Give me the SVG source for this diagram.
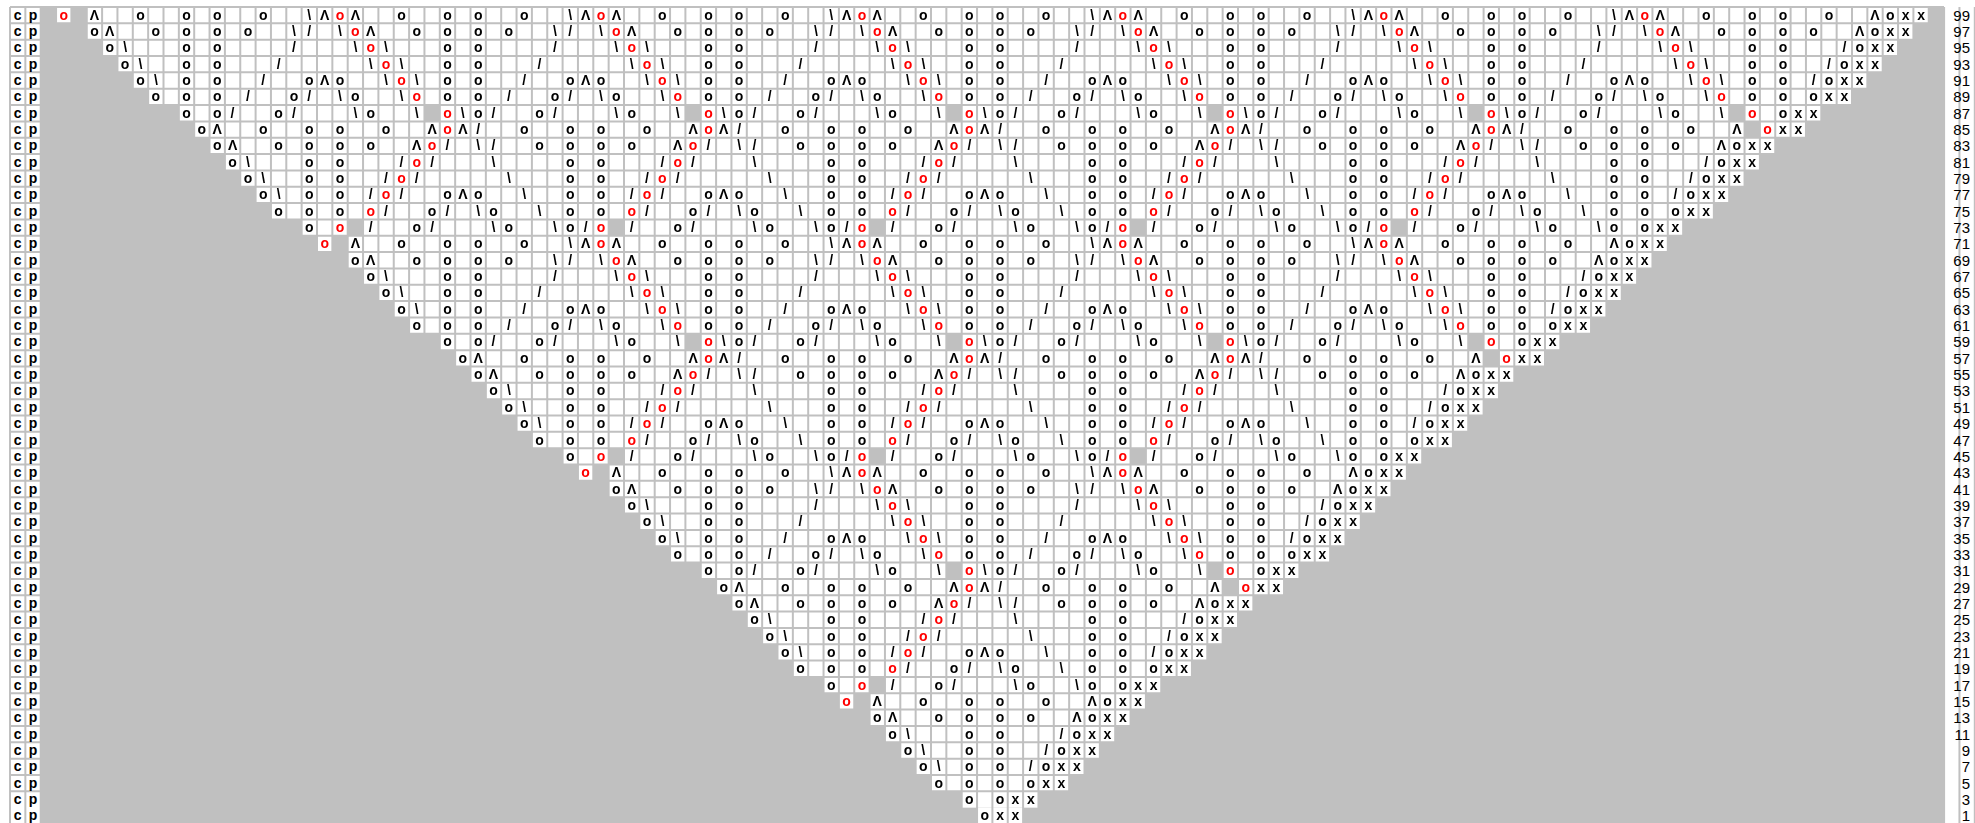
<svg xmlns="http://www.w3.org/2000/svg" xmlns:xlink="http://www.w3.org/1999/xlink" width="1975" height="823" viewBox="0 0 1975 823">
<style>
text{font-family:"Liberation Sans",Arial,sans-serif}
.s{font-size:14px;font-weight:bold;text-anchor:middle;fill:#000}
.r{fill:#f00}
.n{font-size:15px;text-anchor:end;fill:#000}
.g{fill:#c0c0c0}
.w{fill:#fff}
</style>
<defs>
<g id="cp"><text class="s" x="17.675" y="12.67">c</text><text class="s" x="33.025" y="12.67">p</text></g>
<g id="B">
<text class="s" x="7.675" y="12.67">\</text><text class="s" x="23.025" y="12.67">Λ</text><text class="s r" x="38.375" y="12.67">o</text><text class="s" x="53.725" y="12.67">Λ</text><text class="s" x="99.775" y="12.67">o</text><text class="s" x="145.825" y="12.67">o</text><text class="s" x="176.525" y="12.67">o</text><text class="s" x="222.575" y="12.67">o</text>
<text class="s" x="7.675" y="29.01">/</text><text class="s" x="38.375" y="29.01">\</text><text class="s r" x="53.725" y="29.01">o</text><text class="s" x="69.075" y="29.01">Λ</text><text class="s" x="115.125" y="29.01">o</text><text class="s" x="145.825" y="29.01">o</text><text class="s" x="176.525" y="29.01">o</text><text class="s" x="207.225" y="29.01">o</text><text class="s" x="253.275" y="29.01">\</text>
<text class="s" x="53.725" y="45.35">\</text><text class="s r" x="69.075" y="45.35">o</text><text class="s" x="84.425" y="45.35">\</text><text class="s" x="145.825" y="45.35">o</text><text class="s" x="176.525" y="45.35">o</text><text class="s" x="253.275" y="45.35">/</text>
<text class="s" x="69.075" y="61.69">\</text><text class="s r" x="84.425" y="61.69">o</text><text class="s" x="99.775" y="61.69">\</text><text class="s" x="145.825" y="61.69">o</text><text class="s" x="176.525" y="61.69">o</text><text class="s" x="237.925" y="61.69">/</text>
<text class="s" x="7.675" y="78.03">o</text><text class="s" x="23.025" y="78.03">Λ</text><text class="s" x="38.375" y="78.03">o</text><text class="s" x="84.425" y="78.03">\</text><text class="s r" x="99.775" y="78.03">o</text><text class="s" x="115.125" y="78.03">\</text><text class="s" x="145.825" y="78.03">o</text><text class="s" x="176.525" y="78.03">o</text><text class="s" x="222.575" y="78.03">/</text>
<text class="s" x="7.675" y="94.37">/</text><text class="s" x="38.375" y="94.37">\</text><text class="s" x="53.725" y="94.37">o</text><text class="s" x="99.775" y="94.37">\</text><text class="s r" x="115.125" y="94.37">o</text><text class="s" x="145.825" y="94.37">o</text><text class="s" x="176.525" y="94.37">o</text><text class="s" x="207.225" y="94.37">/</text><text class="s" x="253.275" y="94.37">o</text>
<rect class="g" x="122.8" y="98.04" width="15.35" height="16.34"/>
<text class="s" x="53.725" y="110.71">\</text><text class="s" x="69.075" y="110.71">o</text><text class="s" x="115.125" y="110.71">\</text><text class="s r" x="145.825" y="110.71">o</text><text class="s" x="161.175" y="110.71">\</text><text class="s" x="176.525" y="110.71">o</text><text class="s" x="191.875" y="110.71">/</text><text class="s" x="237.925" y="110.71">o</text><text class="s" x="253.275" y="110.71">/</text>
<text class="s" x="7.675" y="127.05">o</text><text class="s" x="38.375" y="127.05">o</text><text class="s" x="84.425" y="127.05">o</text><text class="s" x="130.475" y="127.05">Λ</text><text class="s r" x="145.825" y="127.05">o</text><text class="s" x="161.175" y="127.05">Λ</text><text class="s" x="176.525" y="127.05">/</text><text class="s" x="222.575" y="127.05">o</text>
<text class="s" x="7.675" y="143.39">o</text><text class="s" x="38.375" y="143.39">o</text><text class="s" x="69.075" y="143.39">o</text><text class="s" x="115.125" y="143.39">Λ</text><text class="s r" x="130.475" y="143.39">o</text><text class="s" x="145.825" y="143.39">/</text><text class="s" x="176.525" y="143.39">\</text><text class="s" x="191.875" y="143.39">/</text><text class="s" x="237.925" y="143.39">o</text>
<text class="s" x="7.675" y="159.73">o</text><text class="s" x="38.375" y="159.73">o</text><text class="s" x="99.775" y="159.73">/</text><text class="s r" x="115.125" y="159.73">o</text><text class="s" x="130.475" y="159.73">/</text><text class="s" x="191.875" y="159.73">\</text>
<text class="s" x="7.675" y="176.07">o</text><text class="s" x="38.375" y="176.07">o</text><text class="s" x="84.425" y="176.07">/</text><text class="s r" x="99.775" y="176.07">o</text><text class="s" x="115.125" y="176.07">/</text><text class="s" x="207.225" y="176.07">\</text>
<text class="s" x="7.675" y="192.41">o</text><text class="s" x="38.375" y="192.41">o</text><text class="s" x="69.075" y="192.41">/</text><text class="s r" x="84.425" y="192.41">o</text><text class="s" x="99.775" y="192.41">/</text><text class="s" x="145.825" y="192.41">o</text><text class="s" x="161.175" y="192.41">Λ</text><text class="s" x="176.525" y="192.41">o</text><text class="s" x="222.575" y="192.41">\</text>
<text class="s" x="7.675" y="208.75">o</text><text class="s" x="38.375" y="208.75">o</text><text class="s r" x="69.075" y="208.75">o</text><text class="s" x="84.425" y="208.75">/</text><text class="s" x="130.475" y="208.75">o</text><text class="s" x="145.825" y="208.75">/</text><text class="s" x="176.525" y="208.75">\</text><text class="s" x="191.875" y="208.75">o</text><text class="s" x="237.925" y="208.75">\</text>
<rect class="g" x="46.05" y="212.42" width="15.35" height="16.34"/>
<text class="s" x="7.675" y="225.09">o</text><text class="s" x="23.025" y="225.09">/</text><text class="s r" x="38.375" y="225.09">o</text><text class="s" x="69.075" y="225.09">/</text><text class="s" x="115.125" y="225.09">o</text><text class="s" x="130.475" y="225.09">/</text><text class="s" x="191.875" y="225.09">\</text><text class="s" x="207.225" y="225.09">o</text><text class="s" x="253.275" y="225.09">\</text>
</g>
<g id="BR"><use xlink:href="#B"/><use xlink:href="#B" x="260.95"/><use xlink:href="#B" x="521.9"/><use xlink:href="#B" x="782.85"/><use xlink:href="#B" x="1043.8"/><use xlink:href="#B" x="1304.75"/><use xlink:href="#B" x="1565.7"/><use xlink:href="#B" x="1826.65"/></g>
<g id="LE">
<text class="s r" x="63.725" y="19.67">o</text><rect class="g" x="71.4" y="7" width="15.35" height="16.34"/>
<text class="s" x="94.425" y="36.01">o</text><text class="s" x="109.775" y="36.01">Λ</text>
<text class="s" x="109.775" y="52.35">o</text><text class="s" x="125.125" y="52.35">\</text>
<text class="s" x="125.125" y="68.69">o</text><text class="s" x="140.475" y="68.69">\</text>
<text class="s" x="140.475" y="85.03">o</text><text class="s" x="155.825" y="85.03">\</text>
<text class="s" x="155.825" y="101.37">o</text>
<text class="s" x="186.525" y="117.71">o</text>
<text class="s" x="201.875" y="134.05">o</text><text class="s" x="217.225" y="134.05">Λ</text>
<text class="s" x="217.225" y="150.39">o</text><text class="s" x="232.575" y="150.39">Λ</text>
<text class="s" x="232.575" y="166.73">o</text><text class="s" x="247.925" y="166.73">\</text>
<text class="s" x="247.925" y="183.07">o</text><text class="s" x="263.275" y="183.07">\</text>
<text class="s" x="263.275" y="199.41">o</text><text class="s" x="278.625" y="199.41">\</text>
<text class="s" x="278.625" y="215.75">o</text>
<text class="s" x="309.325" y="232.09">o</text>
</g>
<g id="RE">
<text class="s" x="1875.025" y="19.67">Λ</text><text class="s" x="1890.375" y="19.67">o</text><text class="s" x="1905.725" y="19.67">x</text><text class="s" x="1921.075" y="19.67">x</text>
<text class="s" x="1859.675" y="36.01">Λ</text><text class="s" x="1875.025" y="36.01">o</text><text class="s" x="1890.375" y="36.01">x</text><text class="s" x="1905.725" y="36.01">x</text>
<text class="s" x="1844.325" y="52.35">/</text><text class="s" x="1859.675" y="52.35">o</text><text class="s" x="1875.025" y="52.35">x</text><text class="s" x="1890.375" y="52.35">x</text>
<text class="s" x="1828.975" y="68.69">/</text><text class="s" x="1844.325" y="68.69">o</text><text class="s" x="1859.675" y="68.69">x</text><text class="s" x="1875.025" y="68.69">x</text>
<text class="s" x="1813.625" y="85.03">/</text><text class="s" x="1828.975" y="85.03">o</text><text class="s" x="1844.325" y="85.03">x</text><text class="s" x="1859.675" y="85.03">x</text>
<text class="s" x="1813.625" y="101.37">o</text><text class="s" x="1828.975" y="101.37">x</text><text class="s" x="1844.325" y="101.37">x</text>
<text class="s" x="1782.925" y="117.71">o</text><text class="s" x="1798.275" y="117.71">x</text><text class="s" x="1813.625" y="117.71">x</text>
<rect class="g" x="1744.55" y="121.38" width="15.35" height="16.34"/><text class="s r" x="1767.575" y="134.05">o</text><text class="s" x="1782.925" y="134.05">x</text><text class="s" x="1798.275" y="134.05">x</text>
<text class="s" x="1721.525" y="150.39">Λ</text><text class="s" x="1736.875" y="150.39">o</text><text class="s" x="1752.225" y="150.39">x</text><text class="s" x="1767.575" y="150.39">x</text>
<text class="s" x="1706.175" y="166.73">/</text><text class="s" x="1721.525" y="166.73">o</text><text class="s" x="1736.875" y="166.73">x</text><text class="s" x="1752.225" y="166.73">x</text>
<text class="s" x="1690.825" y="183.07">/</text><text class="s" x="1706.175" y="183.07">o</text><text class="s" x="1721.525" y="183.07">x</text><text class="s" x="1736.875" y="183.07">x</text>
<text class="s" x="1675.475" y="199.41">/</text><text class="s" x="1690.825" y="199.41">o</text><text class="s" x="1706.175" y="199.41">x</text><text class="s" x="1721.525" y="199.41">x</text>
<text class="s" x="1675.475" y="215.75">o</text><text class="s" x="1690.825" y="215.75">x</text><text class="s" x="1706.175" y="215.75">x</text>
<text class="s" x="1644.775" y="232.09">o</text><text class="s" x="1660.125" y="232.09">x</text><text class="s" x="1675.475" y="232.09">x</text>
</g>
<clipPath id="ci">
<rect x="86.75" y="7" width="1780.6" height="16.34"/>
<rect x="117.45" y="23.34" width="1734.55" height="16.34"/>
<rect x="132.8" y="39.68" width="1703.85" height="16.34"/>
<rect x="148.15" y="56.02" width="1673.15" height="16.34"/>
<rect x="163.5" y="72.36" width="1642.45" height="16.34"/>
<rect x="178.85" y="88.7" width="1611.75" height="16.34"/>
<rect x="209.55" y="105.04" width="1550.35" height="16.34"/>
<rect x="224.9" y="121.38" width="1519.65" height="16.34"/>
<rect x="240.25" y="137.72" width="1473.6" height="16.34"/>
<rect x="255.6" y="154.06" width="1442.9" height="16.34"/>
<rect x="270.95" y="170.4" width="1412.2" height="16.34"/>
<rect x="286.3" y="186.74" width="1381.5" height="16.34"/>
<rect x="301.65" y="203.08" width="1350.8" height="16.34"/>
<rect x="332.35" y="219.42" width="1289.4" height="16.34"/>
<rect x="347.7" y="235.76" width="1258.7" height="16.34"/>
<rect x="378.4" y="252.1" width="1212.65" height="16.34"/>
<rect x="393.75" y="268.44" width="1181.95" height="16.34"/>
<rect x="409.1" y="284.78" width="1151.25" height="16.34"/>
<rect x="424.45" y="301.12" width="1120.55" height="16.34"/>
<rect x="439.8" y="317.46" width="1089.85" height="16.34"/>
<rect x="470.5" y="333.8" width="1028.45" height="16.34"/>
<rect x="485.85" y="350.14" width="997.75" height="16.34"/>
<rect x="501.2" y="366.48" width="951.7" height="16.34"/>
<rect x="516.55" y="382.82" width="921" height="16.34"/>
<rect x="531.9" y="399.16" width="890.3" height="16.34"/>
<rect x="547.25" y="415.5" width="859.6" height="16.34"/>
<rect x="562.6" y="431.84" width="828.9" height="16.34"/>
<rect x="593.3" y="448.18" width="767.5" height="16.34"/>
<rect x="608.65" y="464.52" width="736.8" height="16.34"/>
<rect x="639.35" y="480.86" width="690.75" height="16.34"/>
<rect x="654.7" y="497.2" width="660.05" height="16.34"/>
<rect x="670.05" y="513.54" width="629.35" height="16.34"/>
<rect x="685.4" y="529.88" width="598.65" height="16.34"/>
<rect x="700.75" y="546.22" width="567.95" height="16.34"/>
<rect x="731.45" y="562.56" width="506.55" height="16.34"/>
<rect x="746.8" y="578.9" width="475.85" height="16.34"/>
<rect x="762.15" y="595.24" width="429.8" height="16.34"/>
<rect x="777.5" y="611.58" width="399.1" height="16.34"/>
<rect x="792.85" y="627.92" width="368.4" height="16.34"/>
<rect x="808.2" y="644.26" width="337.7" height="16.34"/>
<rect x="823.55" y="660.6" width="307" height="16.34"/>
<rect x="854.25" y="676.94" width="245.6" height="16.34"/>
<rect x="869.6" y="693.28" width="214.9" height="16.34"/>
<rect x="900.3" y="709.62" width="168.85" height="16.34"/>
<rect x="915.65" y="725.96" width="138.15" height="16.34"/>
<rect x="931" y="742.3" width="107.45" height="16.34"/>
<rect x="946.35" y="758.64" width="76.75" height="16.34"/>
<rect x="961.7" y="774.98" width="46.05" height="16.34"/>
</clipPath>
<clipPath id="ce"><rect x="0" y="0" width="1975" height="791.32"/></clipPath>
</defs>
<rect x="0" y="0" width="1975" height="823" fill="#fff"/>
<rect x="10" y="7" width="1934.1" height="817" fill="#c0c0c0"/>
<g id="cells" class="w">
<rect x="10" y="7" width="30.7" height="817"/>
<rect x="56.05" y="7" width="1872.7" height="16.34"/>
<rect x="86.75" y="23.34" width="1826.65" height="16.34"/>
<rect x="102.1" y="39.68" width="1795.95" height="16.34"/>
<rect x="117.45" y="56.02" width="1765.25" height="16.34"/>
<rect x="132.8" y="72.36" width="1734.55" height="16.34"/>
<rect x="148.15" y="88.7" width="1703.85" height="16.34"/>
<rect x="178.85" y="105.04" width="1642.45" height="16.34"/>
<rect x="194.2" y="121.38" width="1611.75" height="16.34"/>
<rect x="209.55" y="137.72" width="1565.7" height="16.34"/>
<rect x="224.9" y="154.06" width="1535" height="16.34"/>
<rect x="240.25" y="170.4" width="1504.3" height="16.34"/>
<rect x="255.6" y="186.74" width="1473.6" height="16.34"/>
<rect x="270.95" y="203.08" width="1442.9" height="16.34"/>
<rect x="301.65" y="219.42" width="1381.5" height="16.34"/>
<rect x="317" y="235.76" width="1350.8" height="16.34"/>
<rect x="347.7" y="252.1" width="1304.75" height="16.34"/>
<rect x="363.05" y="268.44" width="1274.05" height="16.34"/>
<rect x="378.4" y="284.78" width="1243.35" height="16.34"/>
<rect x="393.75" y="301.12" width="1212.65" height="16.34"/>
<rect x="409.1" y="317.46" width="1181.95" height="16.34"/>
<rect x="439.8" y="333.8" width="1120.55" height="16.34"/>
<rect x="455.15" y="350.14" width="1089.85" height="16.34"/>
<rect x="470.5" y="366.48" width="1043.8" height="16.34"/>
<rect x="485.85" y="382.82" width="1013.1" height="16.34"/>
<rect x="501.2" y="399.16" width="982.4" height="16.34"/>
<rect x="516.55" y="415.5" width="951.7" height="16.34"/>
<rect x="531.9" y="431.84" width="921" height="16.34"/>
<rect x="562.6" y="448.18" width="859.6" height="16.34"/>
<rect x="577.95" y="464.52" width="828.9" height="16.34"/>
<rect x="608.65" y="480.86" width="782.85" height="16.34"/>
<rect x="624" y="497.2" width="752.15" height="16.34"/>
<rect x="639.35" y="513.54" width="721.45" height="16.34"/>
<rect x="654.7" y="529.88" width="690.75" height="16.34"/>
<rect x="670.05" y="546.22" width="660.05" height="16.34"/>
<rect x="700.75" y="562.56" width="598.65" height="16.34"/>
<rect x="716.1" y="578.9" width="567.95" height="16.34"/>
<rect x="731.45" y="595.24" width="521.9" height="16.34"/>
<rect x="746.8" y="611.58" width="491.2" height="16.34"/>
<rect x="762.15" y="627.92" width="460.5" height="16.34"/>
<rect x="777.5" y="644.26" width="429.8" height="16.34"/>
<rect x="792.85" y="660.6" width="399.1" height="16.34"/>
<rect x="823.55" y="676.94" width="337.7" height="16.34"/>
<rect x="838.9" y="693.28" width="307" height="16.34"/>
<rect x="869.6" y="709.62" width="260.95" height="16.34"/>
<rect x="884.95" y="725.96" width="230.25" height="16.34"/>
<rect x="900.3" y="742.3" width="199.55" height="16.34"/>
<rect x="915.65" y="758.64" width="168.85" height="16.34"/>
<rect x="931" y="774.98" width="138.15" height="16.34"/>
<rect x="961.7" y="791.32" width="76.75" height="16.34"/>
<rect x="977.05" y="807.66" width="46.05" height="16.34"/>
</g>
<path id="grid" fill="none" stroke="#c0c0c0" stroke-width="2" d="M10 7v817m15.35-817v817m15.35-817v817m15.35-817v817m15.35-817v817m15.35-817v817m15.35-817v817m15.35-817v817m15.35-817v817m15.35-817v817m15.35-817v817m15.35-817v817m15.35-817v817m15.35-817v817m15.35-817v817m15.35-817v817m15.35-817v817m15.35-817v817m15.35-817v817m15.35-817v817m15.35-817v817m15.35-817v817m15.35-817v817m15.35-817v817m15.35-817v817m15.35-817v817m15.35-817v817m15.35-817v817m15.35-817v817m15.35-817v817m15.35-817v817m15.35-817v817m15.35-817v817m15.35-817v817m15.35-817v817m15.35-817v817m15.35-817v817m15.35-817v817m15.35-817v817m15.35-817v817m15.35-817v817m15.35-817v817m15.35-817v817m15.35-817v817m15.35-817v817m15.35-817v817m15.35-817v817m15.35-817v817m15.35-817v817m15.35-817v817m15.35-817v817m15.35-817v817m15.35-817v817m15.35-817v817m15.35-817v817m15.35-817v817m15.35-817v817m15.35-817v817m15.35-817v817m15.35-817v817m15.35-817v817m15.35-817v817m15.35-817v817m15.35-817v817m15.35-817v817m15.35-817v817m15.35-817v817m15.35-817v817m15.35-817v817m15.35-817v817m15.35-817v817m15.35-817v817m15.35-817v817m15.35-817v817m15.35-817v817m15.35-817v817m15.35-817v817m15.35-817v817m15.35-817v817m15.35-817v817m15.35-817v817m15.35-817v817m15.35-817v817m15.35-817v817m15.35-817v817m15.35-817v817m15.35-817v817m15.35-817v817m15.35-817v817m15.35-817v817m15.35-817v817m15.35-817v817m15.35-817v817m15.35-817v817m15.35-817v817m15.35-817v817m15.35-817v817m15.35-817v817m15.35-817v817m15.35-817v817m15.35-817v817m15.35-817v817m15.35-817v817m15.35-817v817m15.35-817v817m15.35-817v817m15.35-817v817m15.35-817v817m15.35-817v817m15.35-817v817m15.35-817v817m15.35-817v817m15.35-817v817m15.35-817v817m15.35-817v817m15.35-817v817m15.35-817v817m15.35-817v817m15.35-817v817m15.35-817v817m15.35-817v817m15.35-817v817m15.35-817v817m15.35-817v817m15.35-817v817m15.35-817v817m15.35-817v817m15.35-817v817m15.35-817v817M10 7h1934m-1934 16.34h1934m-1934 16.34h1934m-1934 16.34h1934m-1934 16.34h1934m-1934 16.34h1934m-1934 16.34h1934m-1934 16.34h1934m-1934 16.34h1934m-1934 16.34h1934m-1934 16.34h1934m-1934 16.34h1934m-1934 16.34h1934m-1934 16.34h1934m-1934 16.34h1934m-1934 16.34h1934m-1934 16.34h1934m-1934 16.34h1934m-1934 16.34h1934m-1934 16.34h1934m-1934 16.34h1934m-1934 16.34h1934m-1934 16.34h1934m-1934 16.34h1934m-1934 16.34h1934m-1934 16.34h1934m-1934 16.34h1934m-1934 16.34h1934m-1934 16.34h1934m-1934 16.34h1934m-1934 16.34h1934m-1934 16.34h1934m-1934 16.34h1934m-1934 16.34h1934m-1934 16.34h1934m-1934 16.34h1934m-1934 16.34h1934m-1934 16.34h1934m-1934 16.34h1934m-1934 16.34h1934m-1934 16.34h1934m-1934 16.34h1934m-1934 16.34h1934m-1934 16.34h1934m-1934 16.34h1934m-1934 16.34h1934m-1934 16.34h1934m-1934 16.34h1934m-1934 16.34h1934"/>
<g id="interior" clip-path="url(#ci)">
<use xlink:href="#BR" x="40.7" y="7"/>
<use xlink:href="#BR" x="40.7" y="235.76"/>
<use xlink:href="#BR" x="40.7" y="464.52"/>
<use xlink:href="#BR" x="40.7" y="693.28"/>
</g>
<g id="edges" clip-path="url(#ce)">
<use xlink:href="#LE"/>
<use xlink:href="#LE" x="260.95" y="228.76"/>
<use xlink:href="#LE" x="521.9" y="457.52"/>
<use xlink:href="#LE" x="782.85" y="686.28"/>
<use xlink:href="#RE"/>
<use xlink:href="#RE" x="-260.95" y="228.76"/>
<use xlink:href="#RE" x="-521.9" y="457.52"/>
<use xlink:href="#RE" x="-782.85" y="686.28"/>
</g>
<g id="bottom">
<text class="s" x="969.375" y="803.99">o</text><text class="s" x="1000.075" y="803.99">o</text><text class="s" x="1015.425" y="803.99">x</text><text class="s" x="1030.775" y="803.99">x</text>
<text class="s" x="984.725" y="820.33">o</text><text class="s" x="1000.075" y="820.33">x</text><text class="s" x="1015.425" y="820.33">x</text>
</g>
<g id="cpcol">
<use xlink:href="#cp" y="7"/><use xlink:href="#cp" y="23.34"/><use xlink:href="#cp" y="39.68"/><use xlink:href="#cp" y="56.02"/><use xlink:href="#cp" y="72.36"/><use xlink:href="#cp" y="88.7"/><use xlink:href="#cp" y="105.04"/><use xlink:href="#cp" y="121.38"/><use xlink:href="#cp" y="137.72"/><use xlink:href="#cp" y="154.06"/><use xlink:href="#cp" y="170.4"/><use xlink:href="#cp" y="186.74"/><use xlink:href="#cp" y="203.08"/><use xlink:href="#cp" y="219.42"/><use xlink:href="#cp" y="235.76"/><use xlink:href="#cp" y="252.1"/><use xlink:href="#cp" y="268.44"/><use xlink:href="#cp" y="284.78"/><use xlink:href="#cp" y="301.12"/><use xlink:href="#cp" y="317.46"/><use xlink:href="#cp" y="333.8"/><use xlink:href="#cp" y="350.14"/><use xlink:href="#cp" y="366.48"/><use xlink:href="#cp" y="382.82"/><use xlink:href="#cp" y="399.16"/><use xlink:href="#cp" y="415.5"/><use xlink:href="#cp" y="431.84"/><use xlink:href="#cp" y="448.18"/><use xlink:href="#cp" y="464.52"/><use xlink:href="#cp" y="480.86"/><use xlink:href="#cp" y="497.2"/><use xlink:href="#cp" y="513.54"/><use xlink:href="#cp" y="529.88"/><use xlink:href="#cp" y="546.22"/><use xlink:href="#cp" y="562.56"/><use xlink:href="#cp" y="578.9"/><use xlink:href="#cp" y="595.24"/><use xlink:href="#cp" y="611.58"/><use xlink:href="#cp" y="627.92"/><use xlink:href="#cp" y="644.26"/><use xlink:href="#cp" y="660.6"/><use xlink:href="#cp" y="676.94"/><use xlink:href="#cp" y="693.28"/><use xlink:href="#cp" y="709.62"/><use xlink:href="#cp" y="725.96"/><use xlink:href="#cp" y="742.3"/><use xlink:href="#cp" y="758.64"/><use xlink:href="#cp" y="774.98"/><use xlink:href="#cp" y="791.32"/><use xlink:href="#cp" y="807.66"/>
</g>
<g id="rownums">
<text class="n" x="1970" y="20.67">99</text><text class="n" x="1970" y="37.01">97</text><text class="n" x="1970" y="53.35">95</text><text class="n" x="1970" y="69.69">93</text><text class="n" x="1970" y="86.03">91</text><text class="n" x="1970" y="102.37">89</text><text class="n" x="1970" y="118.71">87</text><text class="n" x="1970" y="135.05">85</text><text class="n" x="1970" y="151.39">83</text><text class="n" x="1970" y="167.73">81</text><text class="n" x="1970" y="184.07">79</text><text class="n" x="1970" y="200.41">77</text><text class="n" x="1970" y="216.75">75</text><text class="n" x="1970" y="233.09">73</text><text class="n" x="1970" y="249.43">71</text><text class="n" x="1970" y="265.77">69</text><text class="n" x="1970" y="282.11">67</text><text class="n" x="1970" y="298.45">65</text><text class="n" x="1970" y="314.79">63</text><text class="n" x="1970" y="331.13">61</text><text class="n" x="1970" y="347.47">59</text><text class="n" x="1970" y="363.81">57</text><text class="n" x="1970" y="380.15">55</text><text class="n" x="1970" y="396.49">53</text><text class="n" x="1970" y="412.83">51</text><text class="n" x="1970" y="429.17">49</text><text class="n" x="1970" y="445.51">47</text><text class="n" x="1970" y="461.85">45</text><text class="n" x="1970" y="478.19">43</text><text class="n" x="1970" y="494.53">41</text><text class="n" x="1970" y="510.87">39</text><text class="n" x="1970" y="527.21">37</text><text class="n" x="1970" y="543.55">35</text><text class="n" x="1970" y="559.89">33</text><text class="n" x="1970" y="576.23">31</text><text class="n" x="1970" y="592.57">29</text><text class="n" x="1970" y="608.91">27</text><text class="n" x="1970" y="625.25">25</text><text class="n" x="1970" y="641.59">23</text><text class="n" x="1970" y="657.93">21</text><text class="n" x="1970" y="674.27">19</text><text class="n" x="1970" y="690.61">17</text><text class="n" x="1970" y="706.95">15</text><text class="n" x="1970" y="723.29">13</text><text class="n" x="1970" y="739.63">11</text><text class="n" x="1970" y="755.97">9</text><text class="n" x="1970" y="772.31">7</text><text class="n" x="1970" y="788.65">5</text><text class="n" x="1970" y="804.99">3</text><text class="n" x="1970" y="821.33">1</text>
</g>
</svg>
